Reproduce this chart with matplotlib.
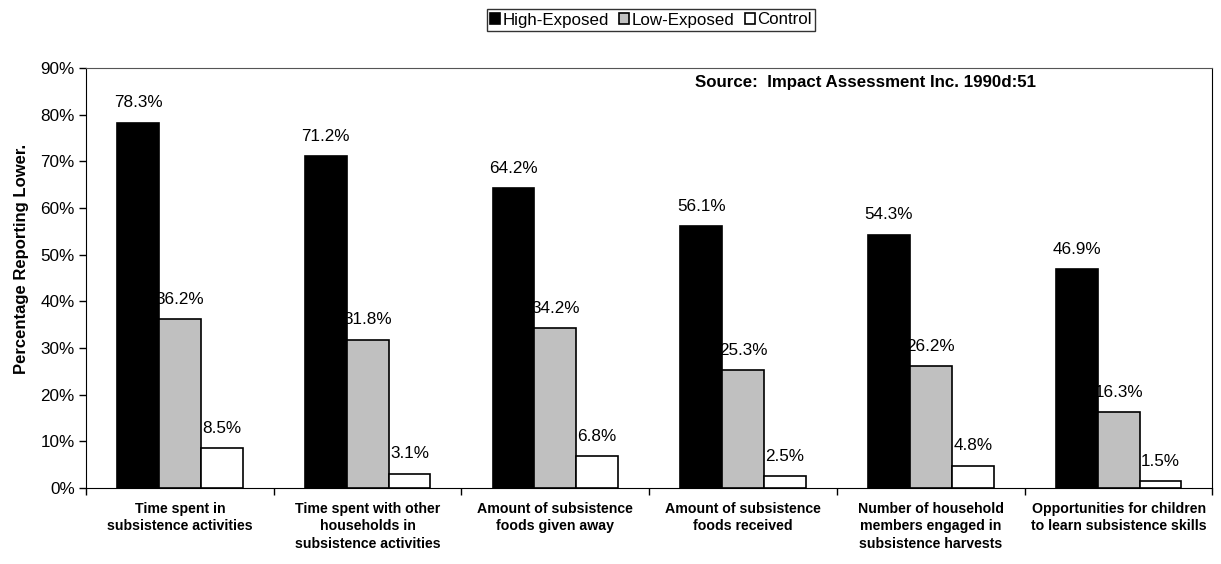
import matplotlib
matplotlib.use("Agg")
import matplotlib.pyplot as plt
import numpy as np

plt.rcParams['font.family'] = ['Liberation Sans', 'DejaVu Sans']

categories = ["Time spent in\nsubsistence activities",
              "Time spent with other\nhouseholds in\nsubsistence activities",
              "Amount of subsistence\nfoods given away",
              "Amount of subsistence\nfoods received",
              "Number of household\nmembers engaged in\nsubsistence harvests",
              "Opportunities for children\nto learn subsistence skills"]
high = [78.3, 71.2, 64.2, 56.1, 54.3, 46.9]
low = [36.2, 31.8, 34.2, 25.3, 26.2, 16.3]
control = [8.5, 3.1, 6.8, 2.5, 4.8, 1.5]
series_names = ["High-Exposed", "Low-Exposed", "Control"]
colors = ["#000000", "#c0c0c0", "#ffffff"]

fig = plt.figure(figsize=(12.21, 5.64), dpi=100)
ax = fig.add_axes([0.0704, 0.1348, 0.9226, 0.7446])

x = np.arange(len(categories)) + 0.5
w = 0.223
handles = []
for i, (vals, name, c) in enumerate(zip([high, low, control], series_names, colors)):
    pos = x + (i - 1) * w
    b = ax.bar(pos, vals, width=w, color=c, edgecolor='black', linewidth=1.2, label=name, zorder=3)
    handles.append(b)
    for p, v in zip(pos, vals):
        ax.text(p, v + 2.6, f"{v:.1f}%", ha='center', va='bottom', fontsize=12.3, zorder=2)

ax.set_xlim(0, len(categories))
ax.set_ylim(0, 90)
ax.set_yticks(np.arange(0, 91, 10))
ax.set_yticklabels([f"{t}%" for t in range(0, 91, 10)], fontsize=12.3)
ax.set_xticks(np.arange(0, len(categories) + 1))
ax.set_xticklabels([])
ax.tick_params(axis='x', direction='out', length=5, width=1)
ax.tick_params(axis='y', direction='out', length=5, width=1, pad=3)
for i, c in enumerate(categories):
    ax.text(x[i], -3.0, c, ha='center', va='top', fontsize=10.2, fontweight='bold',
            linespacing=1.3)
ax.spines['top'].set_color('#555555')
ax.spines['right'].set_color('black')
ax.set_ylabel("Percentage Reporting Lower.", fontsize=12, fontweight='bold')
ax.yaxis.set_label_coords(-0.0506, 0.545)

fig.text(695 / 1221, 1 - 83 / 564, "Source:  Impact Assessment Inc. 1990d:51", fontsize=12.2,
         fontweight='bold', ha='left', va='center')

leg = fig.legend(handles=handles, loc='center', bbox_to_anchor=(651 / 1221, 1 - 20 / 564), ncol=3,
                 frameon=True, fancybox=False, edgecolor='black', fontsize=12.2,
                 handlelength=0.6, handleheight=0.6, handletextpad=0.15, columnspacing=0.6,
                 borderpad=0.2, borderaxespad=0)
leg.get_frame().set_linewidth(1.0)

fig.savefig("out.png", dpi=100)
